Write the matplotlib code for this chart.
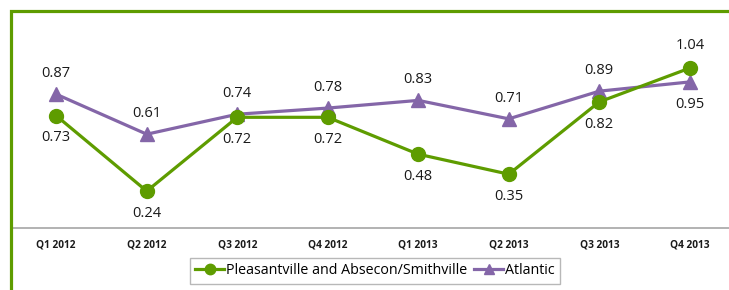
import matplotlib
matplotlib.use("Agg")
import matplotlib.pyplot as plt
from matplotlib.patches import Rectangle

plt.rcParams['font.family'] = ['Open Sans', 'DejaVu Sans']

quarters = ["Q1 2012", "Q2 2012", "Q3 2012", "Q4 2012", "Q1 2013", "Q2 2013", "Q3 2013", "Q4 2013"]
pleasantville = [0.73, 0.24, 0.72, 0.72, 0.48, 0.35, 0.82, 1.04]
atlantic = [0.87, 0.61, 0.74, 0.78, 0.83, 0.71, 0.89, 0.95]
# label placement: True = above the point
pl_above = [False, False, False, False, False, False, False, True]
at_above = [True, True, True, True, True, True, True, False]

green = "#5E9C00"
purple = "#8466A8"

W, H = 729, 290
fig = plt.figure(figsize=(W / 100, H / 100), dpi=100)

left_px, right_px = 11, 735
bottom_px, top_px = 228, 20
ax = fig.add_axes([left_px / W, 1 - bottom_px / H, (right_px - left_px) / W, (bottom_px - top_px) / H])

x = list(range(len(quarters)))
ax.plot(x, pleasantville, color=green, lw=2.3, marker='o', markersize=10,
        label="Pleasantville and Absecon/Smithville", zorder=3)
ax.plot(x, atlantic, color=purple, lw=2.3, marker='^', markersize=10.5,
        label="Atlantic", zorder=2)

for xi, v, up in zip(x, pleasantville, pl_above):
    ax.annotate(f"{v:.2f}", (xi, v), xytext=(0, 16 if up else -16), textcoords='offset points',
                ha='center', va='center', fontsize=10.5, color='#1a1a1a')
for xi, v, up in zip(x, atlantic, at_above):
    ax.annotate(f"{v:.2f}", (xi, v), xytext=(0, 15 if up else -16), textcoords='offset points',
                ha='center', va='center', fontsize=10.5, color='#1a1a1a')

ax.set_xlim(-0.5, len(quarters) - 0.5)
ax.set_ylim(0, (bottom_px - top_px) / 153.75)
ax.set_xticks(x)
ax.set_xticklabels(quarters, fontsize=7.3, fontweight='bold', color='#1a1a1a')
ax.tick_params(axis='x', length=0, pad=8)
ax.set_yticks([])
for s in ['left', 'right', 'top']:
    ax.spines[s].set_visible(False)
ax.spines['bottom'].set_color('#A6A6A6')
ax.spines['bottom'].set_linewidth(1.2)

leg = fig.legend(loc='center', bbox_to_anchor=(375 / W, 1 - 271 / H), ncol=2, fontsize=10.3,
                 frameon=True, fancybox=False, edgecolor='#A6A6A6', handlelength=2.0,
                 handletextpad=0.15, columnspacing=0.5, borderpad=0.35, markerscale=0.75)
leg.get_frame().set_linewidth(1.0)

fig.patches.append(Rectangle((10.5 / W, -0.1), 1.2, 1 - 10.5 / H + 0.1, transform=fig.transFigure,
                             fill=False, edgecolor=green, linewidth=2.3, zorder=10))

fig.savefig("out.png", dpi=100)
